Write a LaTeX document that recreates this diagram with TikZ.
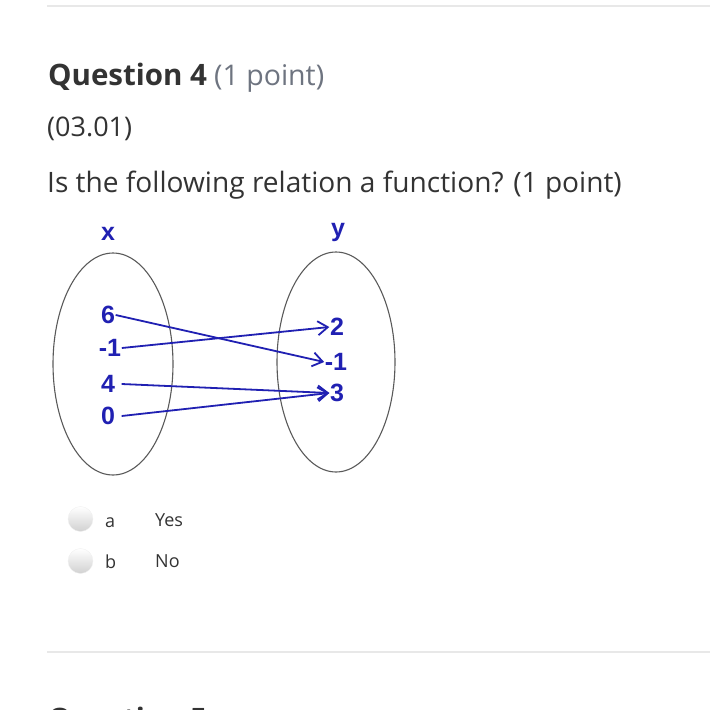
\documentclass[tikz,border=0pt]{standalone}
\usepackage{fontspec}
\setmainfont{Open Sans}
\newfontfamily\diagfont{Liberation Sans}
\usetikzlibrary{arrows.meta,shapes.geometric}
\definecolor{txtdark}{RGB}{51,51,51}
\definecolor{txtgray}{RGB}{110,116,128}
\definecolor{diagblue}{RGB}{32,32,178}
\definecolor{ellgray}{RGB}{90,90,90}
\definecolor{rulegray}{RGB}{232,232,232}
\tikzset{
  txt/.style={anchor=base west, inner sep=0pt, text=txtdark},
  lbl/.style={inner sep=0.5pt, text=diagblue, font=\diagfont\bfseries\fontsize{25}{28}\selectfont},
  arr/.style={draw=diagblue, line width=1.8pt, -{Straight Barb[length=10pt,width=14pt,line width=1.8pt]}},
  setell/.style={draw=ellgray, line width=1.1pt},
  radio/.style={circle, minimum size=25pt, inner sep=0pt, top color=white, bottom color=black!18, draw=black!6},
  rule/.style={draw=rulegray, line width=1.5pt}
}
\begin{document}
\begin{tikzpicture}[x=1pt,y=-1pt]
\useasboundingbox (0,0) rectangle (710,710);
% rules
\coordinate (r1a) at (47,6); \coordinate (r1b) at (710,6);
\coordinate (r2a) at (47,652); \coordinate (r2b) at (710,652);
\draw[rule] (r1a) -- (r1b);
\draw[rule] (r2a) -- (r2b);
% header texts
\node[txt, font=\bfseries\fontsize{29.5}{34}\selectfont] (q4) at (48,85) {Question 4};
\node[txt, text=txtgray, font=\fontsize{28.5}{33}\selectfont] (pt) at (214,85) {(1 point)};
\node[txt, font=\fontsize{27}{32}\selectfont] (code) at (47,136) {(03.01)};
\node[txt, font=\fontsize{28.1}{33}\selectfont] (qtext) at (47,192) {Is the following relation a function? (1 point)};
% diagram
\node[setell, ellipse, minimum width=120pt, minimum height=222pt, inner sep=0pt] (ex) at (113,364) {};
\node[setell, ellipse, minimum width=118pt, minimum height=220pt, inner sep=0pt] (ey) at (336,362) {};
\node[lbl] (lx) at (108,234) {x};
\node[lbl] (ly) at (338,232) {y};
\node[lbl] (l6) at (108,315) {6};
\node[lbl] (lm1) at (110,348) {-1};
\node[lbl] (l4) at (108,384) {4};
\node[lbl] (l0) at (108,416) {0};
\node[lbl] (r2) at (337,327) {2};
\node[lbl] (rm1) at (336,362) {-1};
\node[lbl] (r3) at (337,393) {3};
\draw[arr] (l6.east) -- (rm1.west);
\draw[arr] (lm1.east) -- (r2.west);
\draw[arr] ([xshift=6pt]l4.east) -- (r3.west);
\draw[arr] ([xshift=6pt]l0.east) -- (r3.west);
% options
\node[radio] (ra) at (80.5,519) {};
\node[radio] (rb) at (80.5,561) {};
\node[txt, font=\fontsize{18}{22}\selectfont] (oa) at (105,527) {a};
\node[txt, font=\fontsize{18}{22}\selectfont] (ya) at (155,526) {Yes};
\node[txt, font=\fontsize{18}{22}\selectfont] (ob) at (105,568) {b};
\node[txt, font=\fontsize{18}{22}\selectfont] (nb) at (155,567) {No};
% next question (cut off)
\node[txt, font=\bfseries\fontsize{29.5}{34}\selectfont] (q5) at (48,729) {Question 5};
\end{tikzpicture}
\end{document}
